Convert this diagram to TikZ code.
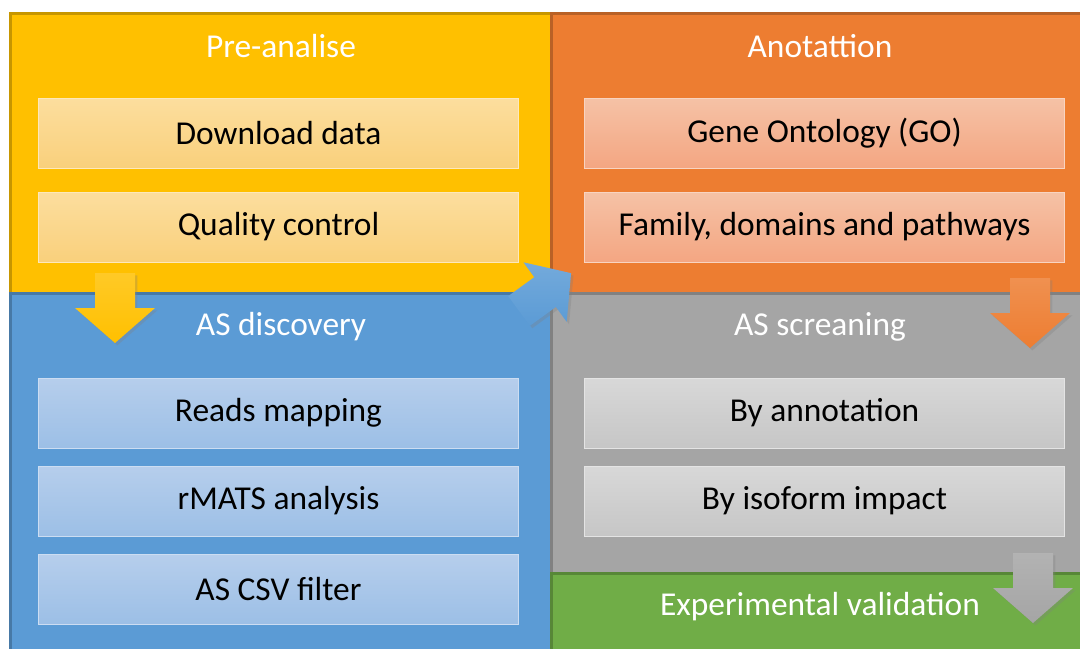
\documentclass[tikz,border=0pt]{standalone}
\usepackage{fontspec}
\setmainfont{Carlito}
\usetikzlibrary{positioning,shadows}
\definecolor{wfYellow}{HTML}{FFC000}
\definecolor{wfOrange}{HTML}{ED7D31}
\definecolor{wfBlue}{HTML}{5B9BD5}
\definecolor{wfGray}{HTML}{A5A5A5}
\definecolor{wfGreen}{HTML}{70AD47}
\definecolor{wfYellowTop}{HTML}{FCDE9E}
\definecolor{wfYellowBot}{HTML}{F9D07C}
\definecolor{wfOrangeTop}{HTML}{F5C2A6}
\definecolor{wfOrangeBot}{HTML}{F4A682}
\definecolor{wfBlueTop}{HTML}{B6CEEC}
\definecolor{wfBlueBot}{HTML}{9CBFE6}
\definecolor{wfGrayTop}{HTML}{D8D8D8}
\definecolor{wfGrayBot}{HTML}{C6C6C6}
\tikzset{
  wf diagram/.style={x=0.5pt, y=-0.5pt, font=\fontsize{16.7}{19}\selectfont,
    line join=miter},
  wf panel/.style={draw=#1!78!black, fill=#1, line width=1.4pt,
    anchor=north west, inner sep=0pt},
  wf title/.style={text=white},
  wf step/.style={top color=#1Top, bottom color=#1Bot, draw=#1Top!70!white,
    line width=0.4pt, minimum width=240pt, minimum height=35pt, inner sep=0pt},
  wf arrow/.style={top color=#1!85!white, bottom color=#1, draw=none,
    drop shadow={opacity=0.3, shadow xshift=1.2pt, shadow yshift=-1.2pt}}
}
\begin{document}
\begin{tikzpicture}[wf diagram]
\useasboundingbox (0,0) rectangle (1080,648);
\clip (0,0) rectangle (1080,648);
% panels
\node[wf panel=wfYellow, minimum width=270.5pt, minimum height=140pt] (pre) at (9,12) {};
\node[wf panel=wfOrange, minimum width=275pt, minimum height=140pt] (anno) at (550,12) {};
\node[wf panel=wfBlue, minimum width=270.5pt, minimum height=190pt] (disc) at (9,292) {};
\node[wf panel=wfGray, minimum width=275pt, minimum height=140pt] (scr) at (550,292) {};
\node[wf panel=wfGreen, minimum width=275pt, minimum height=50pt] (val) at (550,572) {};
% titles
\node[wf title] (preT) at (281,46) {Pre-analise};
\node[wf title] (annoT) at (820,46) {Anotattion};
\node[wf title] (discT) at (281,327) {AS discovery};
\node[wf title] (scrT) at (820,327) {AS screaning};
\node[wf title] (valT) at (820,607) {Experimental validation};
% steps
\node[wf step=wfYellow] (down) at (278.5,133) {Download data};
\node[wf step=wfYellow] (qc) at (278.5,227) {Quality control};
\node[wf step=wfOrange] (go) at (824.5,133) {Gene Ontology (GO)};
\node[wf step=wfOrange] (fam) at (824.5,227) {Family, domains and pathways};
\node[wf step=wfBlue] (map) at (278.5,413) {Reads mapping};
\node[wf step=wfBlue] (rmats) at (278.5,501) {rMATS analysis};
\node[wf step=wfBlue] (csv) at (278.5,589) {AS CSV filter};
\node[wf step=wfGray] (annot) at (824.5,413) {By annotation};
\node[wf step=wfGray] (iso) at (824.5,501) {By isoform impact};
% block arrows
\foreach \x/\y/\c in {115/273/wfYellow,1030/278/wfOrange,1033/553/wfGray}{
  \draw[wf arrow=\c, shift={(\x,\y)}] (-20,0) -- (20,0) -- (20,35) -- (40,35)
    -- (0,70) -- (-40,35) -- (-20,35) -- cycle;
}
\draw[wf arrow=wfBlue, shift={(519,311)}, rotate=126, scale=0.92] (-20,0) -- (20,0)
  -- (20,35) -- (40,35) -- (0,70) -- (-40,35) -- (-20,35) -- cycle;
\end{tikzpicture}
\end{document}
